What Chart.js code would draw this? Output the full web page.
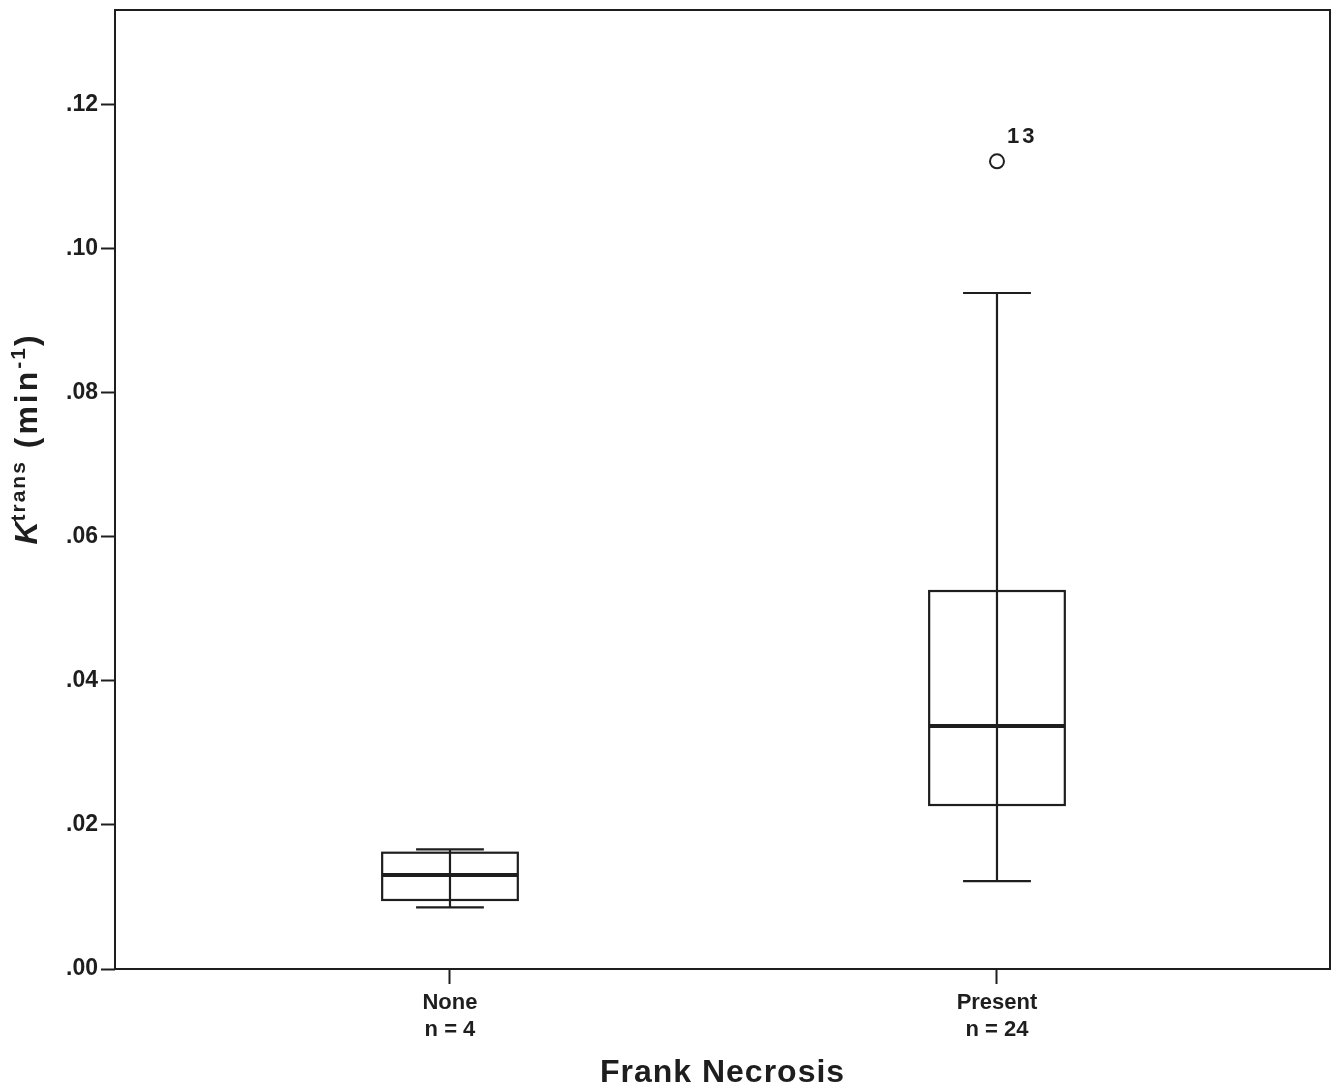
<!DOCTYPE html>
<html>
<head>
<meta charset="utf-8">
<style>
  html, body { margin: 0; padding: 0; background: #fff; }
  #wrap { width: 1340px; height: 1090px; position: relative; }
</style>
<script src="https://cdn.jsdelivr.net/npm/chart.js@4/dist/chart.umd.min.js"></script>
</head>
<body>
<div id="wrap"><canvas id="chart" width="1340" height="1090"></canvas></div>
<script>
// Box-plot summary of Ktrans by frank necrosis group
const groups = ['None', 'Present'];
const groupCounts = [4, 24];
const whiskerLow = [0.00856, 0.01221];
const quartile1 = [0.00958, 0.02276];
const medians = [0.01305, 0.03373];
const quartile3 = [0.01614, 0.05246];
const whiskerHigh = [0.01661, 0.09382];
const outlierGroup = [1];
const outlierValue = [0.1121];
const outlierLabel = ['13'];
const yTickValues = [0, 0.02, 0.04, 0.06, 0.08, 0.10, 0.12];

const INK = '#1e1e1e';
const FONT = '"Liberation Sans", Arial, Helvetica, sans-serif';

const BOX_HALF = 0.1240;   // half box width, category units
const CAP_HALF = 0.0620;   // half whisker-cap width

function setSpacing(ctx, px) {
  if ('letterSpacing' in ctx) ctx.letterSpacing = px + 'px';
}

const boxPlotPlugin = {
  id: 'boxPlot',
  afterDatasetsDraw(chart) {
    const ctx = chart.ctx;
    const xs = chart.scales.x, ys = chart.scales.y;
    ctx.save();
    ctx.strokeStyle = INK;
    ctx.lineCap = 'butt';
    groups.forEach((g, i) => {
      const xc = xs.getPixelForValue(i);
      const xl = xs.getPixelForValue(i - BOX_HALF);
      const xr = xs.getPixelForValue(i + BOX_HALF);
      const cl = xs.getPixelForValue(i - CAP_HALF);
      const cr = xs.getPixelForValue(i + CAP_HALF);
      const yLo = ys.getPixelForValue(whiskerLow[i]);
      const yQ1 = ys.getPixelForValue(quartile1[i]);
      const yMed = ys.getPixelForValue(medians[i]);
      const yQ3 = ys.getPixelForValue(quartile3[i]);
      const yHi = ys.getPixelForValue(whiskerHigh[i]);
      ctx.lineWidth = 2.2;
      // whisker stems
      ctx.beginPath();
      ctx.moveTo(xc, yHi); ctx.lineTo(xc, yLo);
      ctx.stroke();
      // caps
      ctx.beginPath();
      ctx.moveTo(cl, yHi); ctx.lineTo(cr, yHi);
      ctx.moveTo(cl, yLo); ctx.lineTo(cr, yLo);
      ctx.stroke();
      // box
      ctx.strokeRect(xl, yQ3, xr - xl, yQ1 - yQ3);
      // median
      ctx.lineWidth = 4;
      ctx.beginPath();
      ctx.moveTo(xl, yMed); ctx.lineTo(xr, yMed);
      ctx.stroke();
    });
    // outlier case labels
    ctx.fillStyle = INK;
    ctx.font = 'bold 22px ' + FONT;
    ctx.textAlign = 'left';
    ctx.textBaseline = 'alphabetic';
    setSpacing(ctx, 3);
    outlierValue.forEach((v, k) => {
      const px = xs.getPixelForValue(outlierGroup[k]);
      const py = ys.getPixelForValue(v);
      ctx.fillText(outlierLabel[k], px + 10, py - 18);
    });
    ctx.restore();
  },
  afterDraw(chart) {
    const ctx = chart.ctx;
    const a = chart.chartArea;
    ctx.save();
    // frame around plot area
    ctx.strokeStyle = INK;
    ctx.lineWidth = 2;
    ctx.strokeRect(a.left, a.top, a.right - a.left, a.bottom - a.top);

    // x-axis title
    ctx.fillStyle = INK;
    ctx.font = 'bold 32px ' + FONT;
    ctx.textAlign = 'center';
    ctx.textBaseline = 'alphabetic';
    setSpacing(ctx, 1);
    ctx.fillText('Frank Necrosis', (a.left + a.right) / 2, 1082);

    // y-axis title: K^trans (min^-1), rotated
    const parts = [
      { t: 'K', f: 'italic bold 32px ' + FONT, dy: 0, sp: 0 },
      { t: 'trans', f: 'bold 21px ' + FONT, dy: -12, sp: 2 },
      { t: ' (min', f: 'bold 32px ' + FONT, dy: 0, sp: 3 },
      { t: '-1', f: 'bold 21px ' + FONT, dy: -12, sp: 2 },
      { t: ')', f: 'bold 32px ' + FONT, dy: 0, sp: 0 }
    ];
    let total = 0;
    parts.forEach(p => {
      ctx.font = p.f; setSpacing(ctx, p.sp);
      p.w = ctx.measureText(p.t).width; total += p.w;
    });
    ctx.translate(37, 440);
    ctx.rotate(-Math.PI / 2);
    ctx.textAlign = 'left';
    let x = -total / 2;
    parts.forEach(p => {
      ctx.font = p.f; setSpacing(ctx, p.sp);
      ctx.fillText(p.t, x, p.dy);
      x += p.w;
    });
    ctx.restore();
  }
};

new Chart(document.getElementById('chart'), {
  type: 'scatter',
  data: {
    datasets: [{
      label: 'Outliers',
      data: outlierValue.map((v, k) => ({ x: outlierGroup[k], y: v })),
      pointStyle: 'circle',
      pointRadius: 7,
      pointHoverRadius: 7,
      borderWidth: 2,
      borderColor: INK,
      backgroundColor: '#ffffff'
    }]
  },
  options: {
    responsive: false,
    animation: false,
    events: [],
    layout: { padding: { top: 10, right: 10, left: 0, bottom: 0 } },
    plugins: {
      legend: { display: false },
      tooltip: { enabled: false }
    },
    scales: {
      x: {
        type: 'linear',
        min: -0.6124,
        max: 1.6088,
        afterBuildTicks(scale) {
          scale.ticks = groups.map((g, i) => ({ value: i }));
        },
        afterFit(scale) {
          scale.height = 121;
          scale.paddingLeft = 0;
          scale.paddingRight = 0;
        },
        border: { display: false },
        grid: {
          drawOnChartArea: false,
          drawTicks: true,
          tickLength: 15,
          tickWidth: 2,
          tickColor: INK
        },
        ticks: {
          autoSkip: false,
          maxRotation: 0,
          padding: 5,
          color: INK,
          font: { family: FONT, size: 22, weight: 'bold', lineHeight: 1.23 },
          callback(value) {
            const i = Math.round(value);
            return [groups[i], 'n = ' + groupCounts[i]];
          }
        }
      },
      y: {
        type: 'linear',
        min: 0,
        max: 0.1331,
        afterBuildTicks(scale) {
          scale.ticks = yTickValues.map(v => ({ value: v }));
        },
        afterFit(scale) {
          scale.width = 115;
          scale.paddingTop = 0;
          scale.paddingBottom = 0;
        },
        border: { display: false },
        grid: {
          drawOnChartArea: false,
          drawTicks: true,
          tickLength: 14,
          tickWidth: 2,
          tickColor: INK
        },
        ticks: {
          padding: 3,
          color: INK,
          font: { family: FONT, size: 23, weight: 'bold' },
          callback(value) {
            return value.toFixed(2).replace(/^0/, '');
          }
        }
      }
    }
  },
  plugins: [boxPlotPlugin]
});
</script>
</body>
</html>
